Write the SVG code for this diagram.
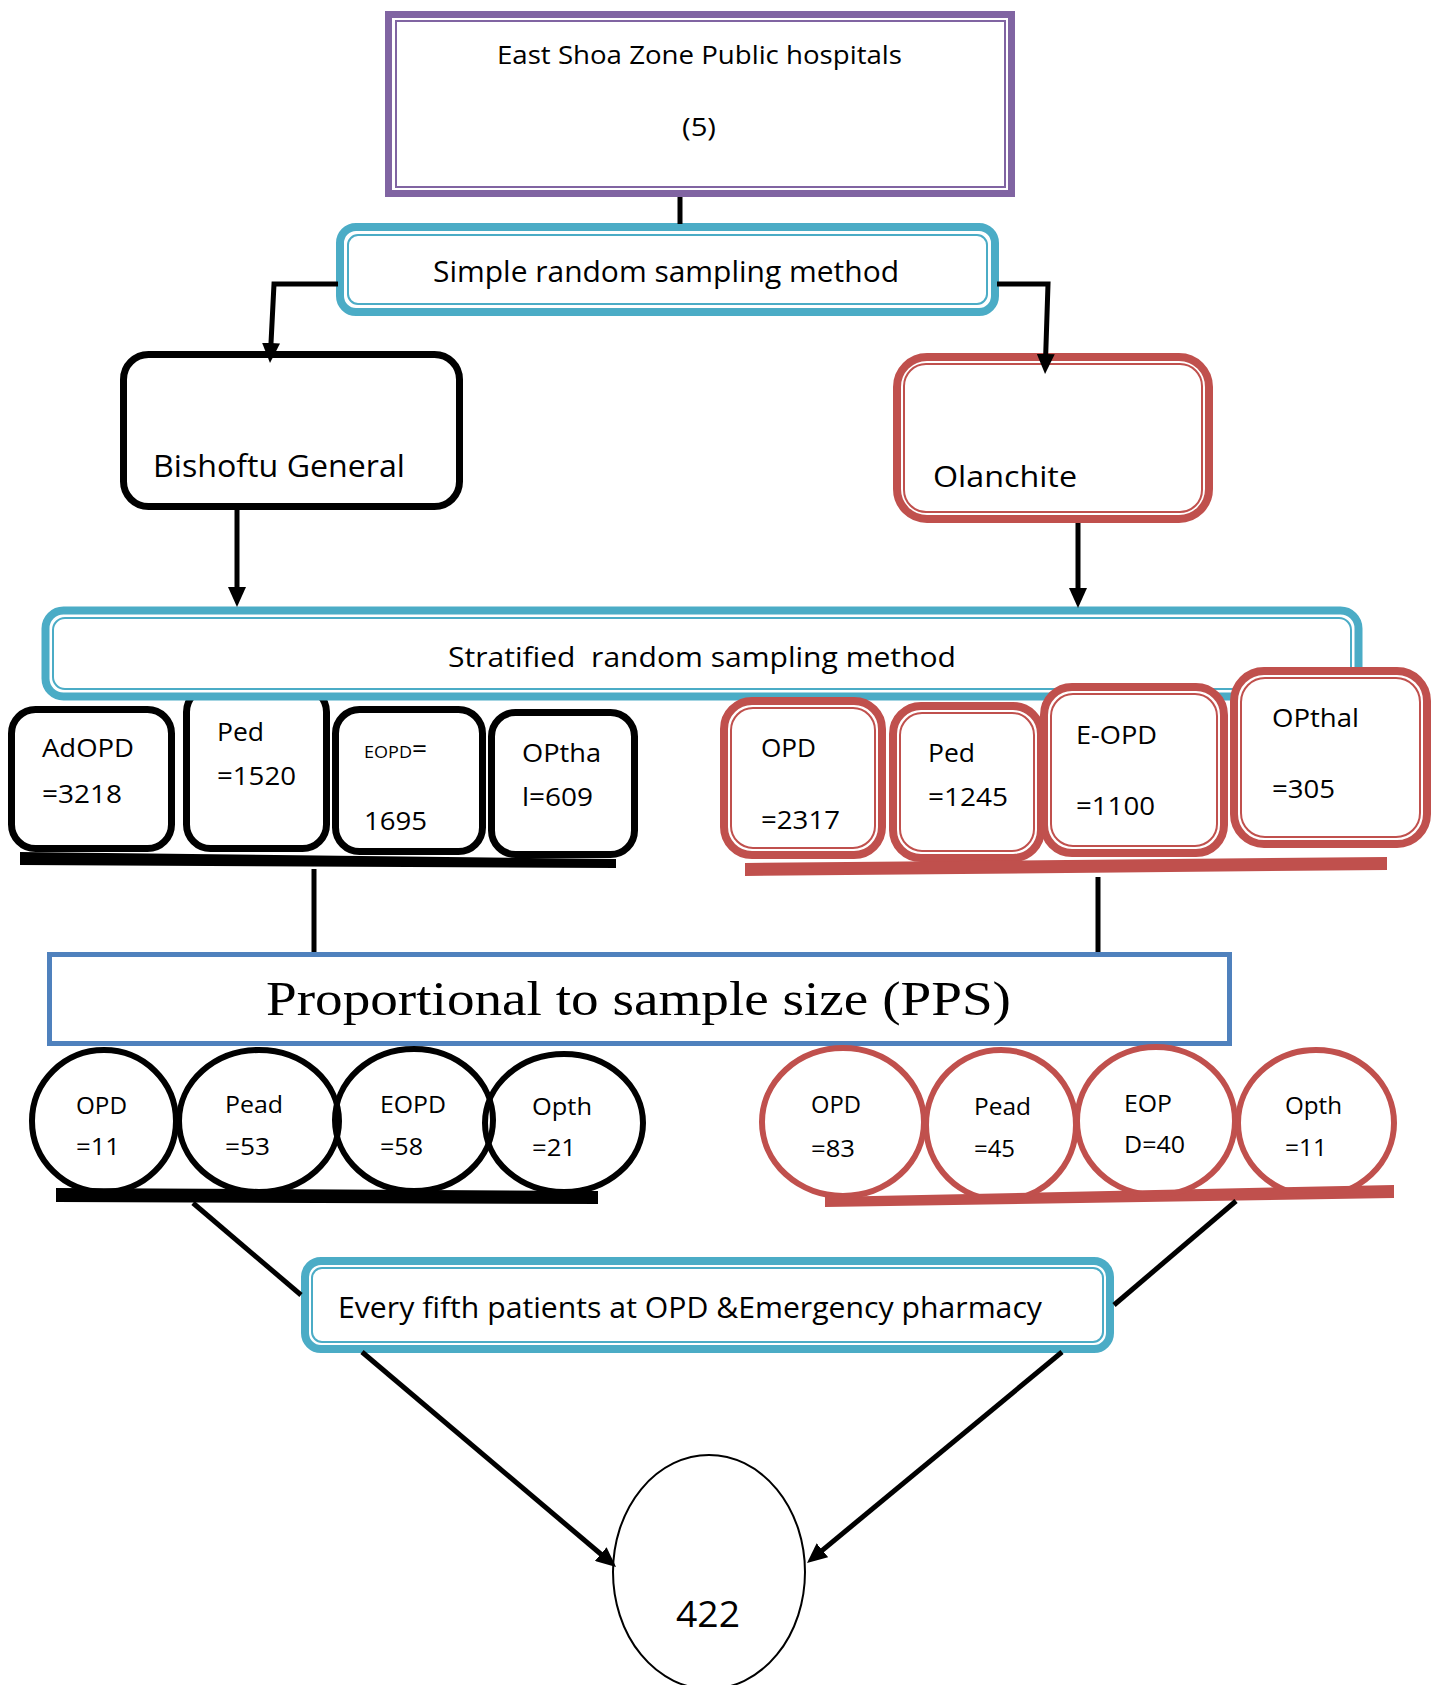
<svg xmlns="http://www.w3.org/2000/svg" width="1442" height="1685" viewBox="0 0 1442 1685">
<style>
.t{font-family:"Open Sans","Noto Sans",sans-serif;fill:#000;white-space:pre}
.ser{font-family:"Liberation Serif","DejaVu Serif",serif;fill:#000}
.blk{fill:#fff;stroke:#000;stroke-width:7}
.redO{fill:#fff;stroke:#C0504D;stroke-width:8}
.redI{fill:none;stroke:#C0504D;stroke-width:2}
.tealO{fill:#fff;stroke:#4BACC6;stroke-width:8}
.tealI{fill:none;stroke:#4BACC6;stroke-width:2}
.cb{fill:none;stroke:#000;stroke-width:6}
.cr{fill:none;stroke:#C0504D;stroke-width:6}
.ln{fill:none;stroke:#000;stroke-width:5}
</style>
<defs>
<marker id="ah" viewBox="0 0 20 18" refX="10" refY="9" markerWidth="20" markerHeight="18" markerUnits="userSpaceOnUse" orient="auto">
<path d="M0,0 L20,9 L0,18 z" fill="#000"/>
</marker>
</defs>

<g id="top">
<rect x="388.5" y="14.5" width="623" height="179" fill="#fff" stroke="#8064A2" stroke-width="7"/>
<rect x="396" y="21" width="609" height="166" fill="none" stroke="#8064A2" stroke-width="2"/>
<text class="t" x="497" y="64" font-size="26" textLength="405" lengthAdjust="spacingAndGlyphs">East Shoa Zone Public hospitals</text>
<text class="t" x="682" y="136" font-size="26" textLength="34" lengthAdjust="spacingAndGlyphs">(5)</text>
</g>

<g id="simple">
<rect class="tealO" x="340" y="227" width="655" height="85" rx="16"/>
<rect class="tealI" x="348" y="235" width="639" height="69" rx="10"/>
<text class="t" x="433" y="282" font-size="30" textLength="466" lengthAdjust="spacingAndGlyphs">Simple random sampling method</text>
</g>

<g id="bishoftu">
<rect class="blk" x="123.5" y="354.5" width="336" height="152" rx="25"/>
<text class="t" x="153" y="477" font-size="31" textLength="252" lengthAdjust="spacingAndGlyphs">Bishoftu General</text>
</g>

<g id="olanchite">
<rect class="redO" x="897" y="357" width="312" height="162" rx="30"/>
<rect class="redI" x="904" y="364" width="298" height="148" rx="22"/>
<text class="t" x="933" y="487" font-size="30" textLength="144" lengthAdjust="spacingAndGlyphs">Olanchite</text>
</g>

<g id="left-strata">
<g id="adopd">
<rect class="blk" x="11.5" y="709.5" width="160" height="139" rx="24"/>
<text class="t" x="42" y="757" font-size="26" textLength="92" lengthAdjust="spacingAndGlyphs">AdOPD</text>
<text class="t" x="42" y="803" font-size="26" textLength="80" lengthAdjust="spacingAndGlyphs">=3218</text>
</g>
<g id="ped-left">
<rect class="blk" x="186.5" y="688" width="140" height="160.5" rx="24"/>
<text class="t" x="217" y="741" font-size="26" textLength="47" lengthAdjust="spacingAndGlyphs">Ped</text>
<text class="t" x="217" y="785" font-size="26" textLength="79" lengthAdjust="spacingAndGlyphs">=1520</text>
</g>
<g id="eopd-left">
<rect class="blk" x="335.5" y="709.5" width="147" height="142" rx="24"/>
<text class="t" x="364" y="758" font-size="16" textLength="48" lengthAdjust="spacingAndGlyphs">EOPD</text>
<text class="t" x="412" y="758" font-size="26" textLength="15" lengthAdjust="spacingAndGlyphs">=</text>
<text class="t" x="364" y="830" font-size="26" textLength="63" lengthAdjust="spacingAndGlyphs">1695</text>
</g>
<g id="optha-left">
<rect class="blk" x="491.5" y="712.5" width="143" height="142" rx="24"/>
<text class="t" x="522" y="762" font-size="26" textLength="79" lengthAdjust="spacingAndGlyphs">OPtha</text>
<text class="t" x="522" y="806" font-size="26" textLength="71" lengthAdjust="spacingAndGlyphs">l=609</text>
</g>
<polygon id="bar-left" points="20,852 616,859 616,868 20,865" fill="#000"/>
</g>

<g id="stratified">
<rect class="tealO" x="45.5" y="610.5" width="1313" height="86" rx="18" stroke-width="7"/>
<rect class="tealI" x="53" y="618" width="1298" height="71" rx="12"/>
<text class="t" x="448" y="667" font-size="28" textLength="508" lengthAdjust="spacingAndGlyphs">Stratified  random sampling method</text>
</g>

<g id="right-strata">
<g id="opd-right">
<rect class="redO" x="724" y="701" width="158" height="154" rx="28"/>
<rect class="redI" x="731" y="708" width="144" height="140" rx="22"/>
<text class="t" x="761" y="757" font-size="26" textLength="55" lengthAdjust="spacingAndGlyphs">OPD</text>
<text class="t" x="761" y="829" font-size="26" textLength="79" lengthAdjust="spacingAndGlyphs">=2317</text>
</g>
<g id="ped-right">
<rect class="redO" x="893" y="706" width="148" height="152" rx="28"/>
<rect class="redI" x="900" y="713" width="134" height="138" rx="22"/>
<text class="t" x="928" y="762" font-size="26" textLength="47" lengthAdjust="spacingAndGlyphs">Ped</text>
<text class="t" x="928" y="806" font-size="26" textLength="80" lengthAdjust="spacingAndGlyphs">=1245</text>
</g>
<g id="eopd-right">
<rect class="redO" x="1044" y="687" width="180" height="166" rx="28"/>
<rect class="redI" x="1051" y="694" width="166" height="152" rx="22"/>
<text class="t" x="1076" y="744" font-size="26" textLength="81" lengthAdjust="spacingAndGlyphs">E-OPD</text>
<text class="t" x="1076" y="815" font-size="26" textLength="79" lengthAdjust="spacingAndGlyphs">=1100</text>
</g>
<g id="opthal-right">
<rect class="redO" x="1234" y="671" width="193" height="173" rx="30"/>
<rect class="redI" x="1241" y="678" width="179" height="159" rx="24"/>
<text class="t" x="1272" y="727" font-size="26" textLength="87" lengthAdjust="spacingAndGlyphs">OPthal</text>
<text class="t" x="1272" y="798" font-size="26" textLength="63" lengthAdjust="spacingAndGlyphs">=305</text>
</g>
<polygon id="bar-right" points="745,863 1387,857 1387,870 745,876" fill="#C0504D"/>
</g>

<g id="pps">
<rect x="49.5" y="954.5" width="1180" height="89" fill="#fff" stroke="#4F81BD" stroke-width="5"/>
<text class="ser" x="266" y="1015" font-size="48" textLength="745" lengthAdjust="spacingAndGlyphs">Proportional to sample size (PPS)</text>
</g>

<g id="left-samples">
<polygon points="56,1188 598,1191 598,1204 56,1202" fill="#000"/>
<g id="c-opd-l"><ellipse class="cb" cx="104" cy="1121" rx="72" ry="71"/>
<text class="t" x="76" y="1114" font-size="23" textLength="51" lengthAdjust="spacingAndGlyphs">OPD</text>
<text class="t" x="76" y="1155" font-size="23" textLength="44" lengthAdjust="spacingAndGlyphs">=11</text></g>
<g id="c-pead-l"><ellipse class="cb" cx="259" cy="1121" rx="80" ry="71"/>
<text class="t" x="225" y="1113" font-size="23" textLength="58" lengthAdjust="spacingAndGlyphs">Pead</text>
<text class="t" x="225" y="1155" font-size="23" textLength="45" lengthAdjust="spacingAndGlyphs">=53</text></g>
<g id="c-eopd-l"><ellipse class="cb" cx="414" cy="1120" rx="79" ry="71"/>
<text class="t" x="380" y="1113" font-size="23" textLength="66" lengthAdjust="spacingAndGlyphs">EOPD</text>
<text class="t" x="380" y="1155" font-size="23" textLength="43" lengthAdjust="spacingAndGlyphs">=58</text></g>
<g id="c-opth-l"><ellipse class="cb" cx="564" cy="1123" rx="79" ry="69"/>
<text class="t" x="532" y="1115" font-size="23" textLength="60" lengthAdjust="spacingAndGlyphs">Opth</text>
<text class="t" x="532" y="1156" font-size="23" textLength="44" lengthAdjust="spacingAndGlyphs">=21</text></g>
</g>

<g id="right-samples">
<polygon points="825,1197 1394,1185 1394,1198 825,1207" fill="#C0504D"/>
<g id="c-opd-r"><ellipse class="cr" cx="843" cy="1122" rx="81" ry="74"/>
<text class="t" x="811" y="1113" font-size="23" textLength="50" lengthAdjust="spacingAndGlyphs">OPD</text>
<text class="t" x="811" y="1157" font-size="23" textLength="44" lengthAdjust="spacingAndGlyphs">=83</text></g>
<g id="c-pead-r"><ellipse class="cr" cx="1001" cy="1125" rx="75" ry="75"/>
<text class="t" x="974" y="1115" font-size="23" textLength="57" lengthAdjust="spacingAndGlyphs">Pead</text>
<text class="t" x="974" y="1157" font-size="23" textLength="41" lengthAdjust="spacingAndGlyphs">=45</text></g>
<g id="c-eopd-r"><ellipse class="cr" cx="1156" cy="1121" rx="79" ry="74"/>
<text class="t" x="1124" y="1112" font-size="23" textLength="48" lengthAdjust="spacingAndGlyphs">EOP</text>
<text class="t" x="1124" y="1153" font-size="23" textLength="61" lengthAdjust="spacingAndGlyphs">D=40</text></g>
<g id="c-opth-r"><ellipse class="cr" cx="1316" cy="1123" rx="78" ry="73"/>
<text class="t" x="1285" y="1114" font-size="23" textLength="57" lengthAdjust="spacingAndGlyphs">Opth</text>
<text class="t" x="1285" y="1156" font-size="23" textLength="42" lengthAdjust="spacingAndGlyphs">=11</text></g>
</g>

<g id="everyfifth">
<rect class="tealO" x="305" y="1261" width="805" height="88" rx="16"/>
<rect class="tealI" x="312" y="1268" width="791" height="74" rx="10"/>
<text class="t" x="338" y="1318" font-size="29" textLength="704" lengthAdjust="spacingAndGlyphs">Every fifth patients at OPD &amp;Emergency pharmacy</text>
</g>

<g id="total">
<ellipse cx="709" cy="1572" rx="96" ry="117" fill="#fff" stroke="#000" stroke-width="2"/>
<text class="t" x="676" y="1627" font-size="36" textLength="64" lengthAdjust="spacingAndGlyphs">422</text>
</g>

<g id="connectors">
<path class="ln" d="M680,197 L680,224"/>
<path class="ln" d="M338,284 L274,284 L270.5,353" marker-end="url(#ah)"/>
<path class="ln" d="M997,284 L1048,284 L1045.4,364" marker-end="url(#ah)"/>
<path class="ln" d="M237,510 L237,597" marker-end="url(#ah)"/>
<path class="ln" d="M1078,523 L1078,598" marker-end="url(#ah)"/>
<path class="ln" d="M314,869 L314,952"/>
<path class="ln" d="M1098,877 L1098,952"/>
<path class="ln" d="M193,1203 L301,1295"/>
<path class="ln" d="M1236,1201 L1114,1305"/>
<path class="ln" d="M362,1352 L608.4,1560.5" marker-end="url(#ah)"/>
<path class="ln" d="M1062,1352 L814.7,1556.6" marker-end="url(#ah)"/>
</g>
</svg>
